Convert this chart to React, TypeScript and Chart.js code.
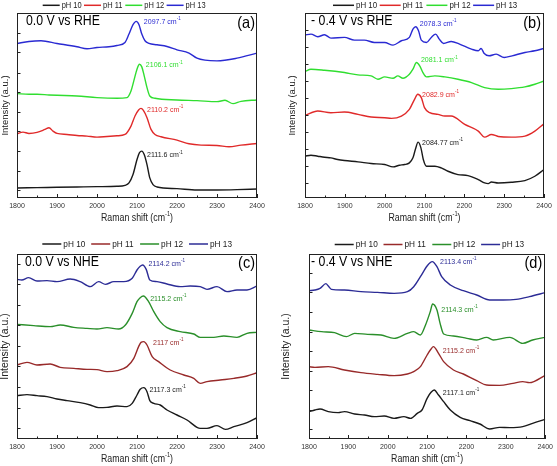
import React, { useEffect, useRef } from "react";
import { Chart, registerables } from "chart.js";
Chart.register(...registerables);

type Pt = [number, number];

const FONT = '"Liberation Sans", Arial, Helvetica, sans-serif';
const SX = 0.88;

const SERIES_LABELS = ["pH 10", "pH 11", "pH 12", "pH 13"];
const X_MIN = 1800;
const X_MAX = 2400;
const X_STEP = 100;
const X_MINOR = [1850, 1950, 2050, 2150, 2250, 2350];
const X_MAJOR = [1800, 1900, 2000, 2100, 2200, 2300, 2400];

// ---------- Panel (a): 0.0 V vs RHE ----------
const A_PH10: Pt[] = [[1800,30],[1850,31],[1900,32],[1950,33],[2000,34],[2050,35],[2070,38],[2080,45],[2090,70],[2100,115],[2106,135],[2112,140],[2118,130],[2125,100],[2132,60],[2140,40],[2150,33],[2200,28],[2250,24],[2300,24],[2350,25],[2400,27]];
const A_PH11: Pt[] = [[1800,192],[1815,197],[1830,193],[1850,196],[1870,205],[1880,210],[1890,200],[1900,193],[1925,190],[1950,187],[1975,185],[2000,182],[2025,184],[2050,186],[2070,190],[2085,215],[2095,245],[2104,263],[2110,268],[2116,262],[2125,240],[2135,205],[2145,190],[2160,183],[2200,173],[2230,162],[2260,158],[2300,157],[2330,153],[2360,158],[2400,163]];
const A_PH12: Pt[] = [[1800,312],[1830,310],[1850,310],[1880,308],[1900,307],[1950,305],[2000,300],[2050,298],[2075,300],[2085,320],[2092,350],[2100,385],[2106,400],[2112,392],[2118,365],[2125,330],[2132,305],[2145,298],[2200,293],[2250,291],[2300,288],[2320,292],[2340,282],[2360,289],[2400,293]];
const A_PH13: Pt[] = [[1800,462],[1830,468],[1860,470],[1900,462],[1950,452],[1975,446],[2000,450],[2030,452],[2050,456],[2070,465],[2080,490],[2090,518],[2098,528],[2105,518],[2112,490],[2120,470],[2130,462],[2150,458],[2175,453],[2200,443],[2230,433],[2250,418],[2270,412],[2300,410],[2350,418],[2400,433]];
const A_PEAKS = ["2111.6", "2110.2", "2106.1", "2097.7"];
const A_YTICKS = [23, 82, 140, 200, 257, 317, 375, 435, 493];

// ---------- Panel (b): -0.4 V vs RHE ----------
const B_PH10: Pt[] = [[1800,125],[1815,128],[1832,125],[1849,122],[1865,120],[1882,115],[1899,112],[1933,108],[1966,103],[2000,100],[2021,93],[2037,98],[2050,100],[2062,105],[2071,120],[2077,145],[2084,167],[2091,150],[2097,115],[2105,95],[2126,95],[2142,90],[2159,80],[2184,70],[2209,67],[2235,55],[2251,45],[2260,43],[2268,48],[2285,45],[2318,47],[2352,52],[2377,65],[2400,85]];
const B_PH11: Pt[] = [[1800,247],[1832,260],[1865,255],[1899,257],[1933,250],[1966,242],[2000,240],[2017,238],[2042,245],[2062,265],[2075,295],[2083,310],[2092,300],[2100,270],[2113,255],[2134,250],[2151,245],[2167,245],[2201,220],[2235,200],[2251,182],[2268,190],[2285,184],[2318,182],[2352,185],[2377,200],[2400,222]];
const B_PH12: Pt[] = [[1800,378],[1815,385],[1849,382],[1899,375],[1933,368],[1966,365],[1983,355],[2000,362],[2021,358],[2033,365],[2046,358],[2062,370],[2071,385],[2080,405],[2088,395],[2096,375],[2105,362],[2126,365],[2151,362],[2184,355],[2218,345],[2251,330],[2285,325],[2318,327],[2352,332],[2377,340],[2400,350]];
const B_PH13: Pt[] = [[1800,487],[1815,490],[1832,482],[1849,488],[1865,478],[1899,480],[1924,472],[1949,472],[1974,465],[2000,465],[2021,457],[2042,470],[2062,480],[2071,505],[2078,512],[2085,500],[2092,472],[2105,465],[2117,480],[2128,490],[2137,475],[2148,462],[2167,468],[2188,460],[2218,445],[2235,440],[2242,447],[2250,432],[2262,425],[2280,430],[2300,420],[2320,425],[2352,435],[2377,440],[2400,447]];
const B_PEAKS = ["2084.77", "2082.9", "2081.1", "2078.3"];
const B_YTICKS = [45, 96, 147, 198, 248, 298, 350, 400, 450, 502];

// ---------- Panel (c): 0.0 V vs NHE ----------
const C_PH10: Pt[] = [[1800,130],[1825,133],[1850,130],[1875,127],[1900,120],[1925,115],[1958,109],[1983,102],[2004,94],[2025,95],[2050,99],[2075,97],[2088,107],[2100,132],[2108,149],[2117,154],[2125,142],[2132,115],[2142,107],[2158,102],[2175,87],[2200,72],[2225,57],[2250,35],[2258,32],[2275,32],[2300,40],[2321,29],[2342,37],[2375,49],[2400,64]];
const C_PH11: Pt[] = [[1800,222],[1825,230],[1850,222],[1883,225],[1908,215],[1942,212],[1975,209],[2000,208],[2025,202],[2050,205],[2075,217],[2092,242],[2104,277],[2110,290],[2117,292],[2125,282],[2138,247],[2154,232],[2183,207],[2217,192],[2242,182],[2258,167],[2275,172],[2308,177],[2342,182],[2375,189],[2400,199]];
const C_PH12: Pt[] = [[1800,344],[1842,340],[1883,337],[1908,342],[1942,335],[1975,332],[2000,330],[2025,334],[2054,330],[2071,342],[2088,377],[2100,412],[2108,424],[2116,429],[2129,412],[2142,382],[2158,352],[2175,334],[2208,322],[2242,315],[2258,305],[2292,305],[2317,309],[2350,305],[2375,317],[2400,320]];
const C_PH13: Pt[] = [[1800,479],[1812,477],[1829,484],[1850,474],[1875,475],[1900,472],[1933,480],[1958,472],[1983,457],[2004,472],[2021,464],[2042,472],[2067,472],[2088,482],[2100,507],[2108,518],[2114,522],[2123,509],[2132,477],[2150,472],[2175,465],[2208,457],[2233,459],[2258,457],[2275,449],[2300,457],[2325,442],[2350,447],[2375,447],[2400,459]];
const C_PEAKS = ["2117.3", "2117", "2115.2", "2114.2"];
const C_YTICKS = [32, 94, 155, 218, 279, 341, 403, 464, 525];

// ---------- Panel (d): -0.4 V vs NHE ----------
const D_PH10: Pt[] = [[1800,82],[1815,87],[1828,90],[1849,82],[1874,79],[1890,82],[1916,75],[1941,72],[1966,67],[1991,69],[2016,62],[2041,67],[2058,62],[2075,77],[2087,87],[2100,122],[2110,140],[2118,147],[2129,132],[2142,112],[2159,87],[2184,65],[2209,55],[2234,45],[2259,30],[2284,35],[2310,34],[2343,37],[2368,47],[2400,59]];
const D_PH11: Pt[] = [[1800,217],[1815,215],[1849,217],[1890,207],[1932,199],[1974,194],[2016,190],[2050,195],[2066,202],[2083,217],[2100,252],[2110,270],[2116,277],[2129,257],[2142,232],[2167,207],[2192,195],[2226,175],[2251,162],[2284,161],[2318,167],[2343,172],[2360,169],[2400,191]];
const D_PH12: Pt[] = [[1800,327],[1832,322],[1865,319],[1895,307],[1916,317],[1949,314],[1983,312],[2016,302],[2050,317],[2066,322],[2083,312],[2096,342],[2108,382],[2114,405],[2125,387],[2133,347],[2142,315],[2167,309],[2201,302],[2226,297],[2251,305],[2268,297],[2310,305],[2343,287],[2368,297],[2400,305]];
const D_PH13: Pt[] = [[1800,445],[1815,447],[1828,452],[1843,466],[1849,459],[1857,449],[1890,447],[1932,442],[1974,440],[2016,437],[2050,442],[2066,457],[2083,487],[2100,519],[2113,532],[2125,517],[2137,487],[2159,462],[2192,445],[2226,432],[2259,417],[2293,417],[2326,419],[2360,427],[2400,439]];
const D_PEAKS = ["2117.1", "2115.2", "2114.3", "2113.4"];
const D_YTICKS = [29, 87, 146, 205, 264, 322, 381, 440, 499];

const COLORS_TOP = ["#1a1a1a", "#e02a2a", "#30de30", "#2a2ad2"];
const COLORS_BOTTOM = ["#1a1a1a", "#982a2a", "#2a8f2a", "#2c2c96"];

interface Panel {
  id: string;
  title: string;
  letter: string;
  series: Pt[][];
  peaks: string[];
  yTicks: number[];
  yMax: number;
  colors: string[];
  box: { x: number; y: number; w: number; h: number };
  pad: { l: number; t: number; r: number };
  xh: number;
  titleDx: number;
  letterDx: number;
  letterDy: number;
  yTitleDx: number;
  yTitleSize: number;
  legX: number;
  legY: number;
  legStep: number;
  legLine: number;
  legSize: number;
  annot: Pt[];
}

const PANELS: Panel[] = [
  {
    id: "a", title: "0.0 V vs RHE", letter: "(a)",
    series: [A_PH10, A_PH11, A_PH12, A_PH13], peaks: A_PEAKS, yTicks: A_YTICKS, yMax: 553,
    colors: COLORS_TOP,
    box: { x: 0, y: 0, w: 278, h: 233 }, pad: { l: 17, t: 13, r: 21 }, xh: 35,
    titleDx: 9, letterDx: -2, letterDy: 10, yTitleDx: -12, yTitleSize: 9.5,
    legX: 42.7, legY: 5.3, legStep: 41.3, legLine: 17, legSize: 8.5,
    annot: [[2125, 128], [2125, 265], [2122, 397], [2117, 528]],
  },
  {
    id: "b", title: "- 0.4 V vs RHE", letter: "(b)",
    series: [B_PH10, B_PH11, B_PH12, B_PH13], peaks: B_PEAKS, yTicks: B_YTICKS, yMax: 553,
    colors: COLORS_TOP,
    box: { x: 278, y: 0, w: 279, h: 233 }, pad: { l: 27, t: 13, r: 13 }, xh: 35,
    titleDx: 6, letterDx: -3, letterDy: 10, yTitleDx: -13, yTitleSize: 9.5,
    legX: 55, legY: 5.3, legStep: 46.7, legLine: 21, legSize: 9,
    annot: [[2094, 165], [2094, 308], [2091, 412], [2088, 522]],
  },
  {
    id: "c", title: "0.0 V vs NHE", letter: "(c)",
    series: [C_PH10, C_PH11, C_PH12, C_PH13], peaks: C_PEAKS, yTicks: C_YTICKS, yMax: 555,
    colors: COLORS_BOTTOM,
    box: { x: 0, y: 233, w: 278, h: 233 }, pad: { l: 17, t: 21, r: 21 }, xh: 27,
    titleDx: 8, letterDx: -2, letterDy: 9, yTitleDx: -12, yTitleSize: 10.5,
    legX: 42.3, legY: 11, legStep: 48.9, legLine: 19, legSize: 9.4,
    annot: [[2131, 149], [2140, 289], [2133, 420], [2129, 527]],
  },
  {
    id: "d", title: "- 0.4 V vs NHE", letter: "(d)",
    series: [D_PH10, D_PH11, D_PH12, D_PH13], peaks: D_PEAKS, yTicks: D_YTICKS, yMax: 555,
    colors: COLORS_BOTTOM,
    box: { x: 278, y: 233, w: 279, h: 233 }, pad: { l: 31, t: 21, r: 8 }, xh: 27,
    titleDx: 2, letterDx: -3, letterDy: 9, yTitleDx: -23, yTitleSize: 10.5,
    legX: 56.7, legY: 11.5, legStep: 48.8, legLine: 19, legSize: 9.4,
    annot: [[2140, 140], [2140, 264], [2136, 389], [2133, 532]],
  },
];

type Part = { t: string; sup?: boolean };

function drawRich(
  ctx: CanvasRenderingContext2D,
  parts: Part[],
  x: number,
  y: number,
  size: number,
  color: string,
  align: "left" | "center" | "right",
  sx = SX
) {
  ctx.save();
  ctx.fillStyle = color;
  ctx.textBaseline = "middle";
  ctx.textAlign = "left";
  const supSize = size * 0.65;
  const widths = parts.map((p) => {
    ctx.font = `${p.sup ? supSize : size}px ${FONT}`;
    return ctx.measureText(p.t).width;
  });
  const total = widths.reduce((a, b) => a + b, 0) * sx;
  const x0 = align === "left" ? x : align === "center" ? x - total / 2 : x - total;
  ctx.translate(x0, y);
  ctx.scale(sx, 1);
  let cx = 0;
  parts.forEach((p, i) => {
    ctx.font = `${p.sup ? supSize : size}px ${FONT}`;
    ctx.fillText(p.t, cx, p.sup ? -size * 0.38 : 0);
    cx += widths[i];
  });
  ctx.restore();
}

function makeDecor(panel: Panel) {
  return {
    id: "decor_" + panel.id,
    afterDatasetsDraw(chart: any) {
      const ctx: CanvasRenderingContext2D = chart.ctx;
      const ca = chart.chartArea;
      const xs = chart.scales.x;
      const ys = chart.scales.y;
      ctx.save();
      ctx.strokeStyle = "#222";
      ctx.lineWidth = 1;
      // frame
      ctx.strokeRect(Math.round(ca.left) + 0.5, Math.round(ca.top) + 0.5, Math.round(ca.right - ca.left) - 1, Math.round(ca.bottom - ca.top) - 1);
      // bottom inner ticks
      ctx.beginPath();
      X_MAJOR.forEach((v) => {
        const x = Math.round(xs.getPixelForValue(v)) + 0.5;
        ctx.moveTo(x, ca.bottom);
        ctx.lineTo(x, ca.bottom - 4);
      });
      X_MINOR.forEach((v) => {
        const x = Math.round(xs.getPixelForValue(v)) + 0.5;
        ctx.moveTo(x, ca.bottom);
        ctx.lineTo(x, ca.bottom - 2.5);
      });
      // left inner ticks
      panel.yTicks.forEach((v) => {
        const y = Math.round(ys.getPixelForValue(v)) + 0.5;
        ctx.moveTo(ca.left, y);
        ctx.lineTo(ca.left + 3.5, y);
      });
      ctx.stroke();

      // legend
      panel.series.forEach((_, i) => {
        const lx = panel.legX + i * panel.legStep;
        ctx.strokeStyle = panel.colors[i];
        ctx.lineWidth = 1.5;
        ctx.beginPath();
        ctx.moveTo(lx, panel.legY);
        ctx.lineTo(lx + panel.legLine, panel.legY);
        ctx.stroke();
        drawRich(ctx, [{ t: SERIES_LABELS[i] }], lx + panel.legLine + 2, panel.legY, panel.legSize, "#222", "left");
      });

      // condition title and panel letter
      drawRich(ctx, [{ t: panel.title }], ca.left + panel.titleDx, ca.top + 8, 14, "#000", "left");
      drawRich(ctx, [{ t: panel.letter }], ca.right + panel.letterDx, ca.top + panel.letterDy, 16.5, "#000", "right");

      // peak annotations
      panel.annot.forEach(([wx, wy], i) => {
        drawRich(
          ctx,
          [{ t: panel.peaks[i] + " cm" }, { t: "-1", sup: true }],
          xs.getPixelForValue(wx),
          ys.getPixelForValue(wy),
          8,
          panel.colors[i],
          "left"
        );
      });

      // x title
      drawRich(
        ctx,
        [{ t: "Raman shift (cm" }, { t: "-1", sup: true }, { t: ")" }],
        (ca.left + ca.right) / 2,
        ca.bottom + 20.5,
        10,
        "#222",
        "center"
      );

      // y title
      ctx.save();
      ctx.translate(ca.left + panel.yTitleDx, (ca.top + ca.bottom) / 2);
      ctx.rotate(-Math.PI / 2);
      drawRich(ctx, [{ t: "Intensity (a.u.)" }], 0, 0, panel.yTitleSize, "#222", "center", 1);
      ctx.restore();

      ctx.restore();
    },
  };
}

function PanelChart({ panel }: { panel: Panel }) {
  const ref = useRef<HTMLCanvasElement>(null);
  useEffect(() => {
    if (!ref.current) return;
    const chart = new Chart(ref.current, {
      type: "line",
      data: {
        datasets: panel.series.map((s, i) => ({
          label: SERIES_LABELS[i],
          data: s.map(([x, y]) => ({ x, y })),
          borderColor: panel.colors[i],
          backgroundColor: panel.colors[i],
          borderWidth: 1.4,
          pointRadius: 0,
          fill: false,
          cubicInterpolationMode: "monotone" as const,
        })),
      },
      options: {
        responsive: false,
        animation: false,
        devicePixelRatio: 1,
        layout: { padding: { left: panel.pad.l, top: panel.pad.t, right: panel.pad.r, bottom: 0 } },
        plugins: { legend: { display: false }, tooltip: { enabled: false } },
        scales: {
          x: {
            type: "linear",
            min: X_MIN,
            max: X_MAX,
            grid: { display: false, drawTicks: false },
            border: { display: false },
            ticks: {
              stepSize: X_STEP,
              autoSkip: false,
              maxRotation: 0,
              padding: 4,
              color: "#333",
              font: { size: 7, family: FONT },
              callback: (v: any) => String(v),
            },
            afterFit: (s: any) => {
              s.height = panel.xh;
            },
          },
          y: {
            type: "linear",
            display: false,
            min: 0,
            max: panel.yMax,
          },
        },
      },
      plugins: [makeDecor(panel)],
    });
    return () => chart.destroy();
  }, [panel]);
  return (
    <canvas
      ref={ref}
      width={panel.box.w}
      height={panel.box.h}
      style={{ position: "absolute", left: panel.box.x, top: panel.box.y, width: panel.box.w, height: panel.box.h }}
    />
  );
}

export default function App() {
  return (
    <div style={{ position: "absolute", left: 0, top: 0, width: 557, height: 466, background: "#fff" }}>
      {PANELS.map((p) => (
        <PanelChart key={p.id} panel={p} />
      ))}
    </div>
  );
}
